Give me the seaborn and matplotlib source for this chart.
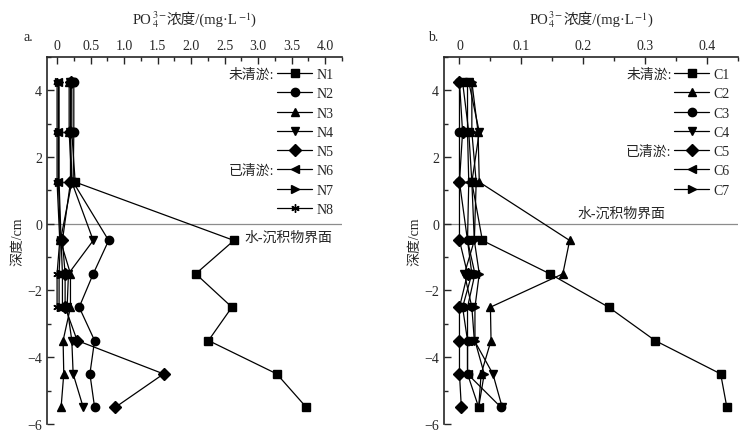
import numpy as np
import pandas as pd
import matplotlib
matplotlib.use("Agg")
import matplotlib.pyplot as plt
from matplotlib.ticker import MultipleLocator
from matplotlib.offsetbox import TextArea, HPacker, AnchoredOffsetbox
import seaborn as sns

# depth of each sampling layer (cm), water column above 0, sediment below
depth = [4.25, 2.75, 1.25, -0.5, -1.5, -2.5, -3.5, -4.5, -5.5]

# panel a: PO4 (mg/L)
N1 = [0.22, 0.22, 0.27, 2.64, 2.07, 2.61, 2.26, 3.28, 3.72]
N2 = [0.25, 0.25, 0.24, 0.77, 0.54, 0.33, 0.56, 0.49, 0.56]
N3 = [0.18, 0.18, 0.22, 0.05, 0.20, 0.20, 0.09, 0.10, 0.06]
N4 = [0.20, 0.20, 0.22, 0.54, 0.17, 0.15, 0.22, 0.24, 0.39]
N5 = [0.21, 0.20, 0.20, 0.08, 0.12, 0.12, 0.30, 1.59, 0.87]
N6 = [0.02, 0.02, 0.02, 0.05, 0.03, 0.03]
N7 = [0.03, 0.03, 0.03, 0.06, 0.08, 0.08]
N8 = [0.00, 0.00, 0.00, 0.04, 0.00, 0.00]

# panel b
C1 = [0.005, 0.015, 0.020, 0.037, 0.146, 0.241, 0.316, 0.422, 0.432]
C2 = [0.020, 0.030, 0.032, 0.178, 0.167, 0.050, 0.051, 0.035, 0.031]
C3 = [0.000, 0.000, 0.000, 0.013, 0.020, 0.005, 0.013, 0.013, 0.067]
C4 = [0.015, 0.032, 0.020, 0.024, 0.008, 0.020, 0.024, 0.054, 0.069]
C5 = [0.000, 0.005, 0.000, 0.000, 0.013, 0.000, 0.000, 0.000, 0.003]
C6 = [0.013, 0.013, 0.015, 0.013, 0.025, 0.013, 0.013, 0.013, 0.031]
C7 = [0.020, 0.020, 0.027, 0.024, 0.032, 0.025, 0.025, 0.040, 0.031]

sites_a = {"N1": N1, "N2": N2, "N3": N3, "N4": N4, "N5": N5, "N6": N6, "N7": N7, "N8": N8}
sites_b = {"C1": C1, "C2": C2, "C3": C3, "C4": C4, "C5": C5, "C6": C6, "C7": C7}
marks_a = ["s", "o", "^", "v", "D", "<", ">", (6, 2, 0)]
marks_b = ["s", "^", "o", "v", "D", "<", ">"]

sns.set_style("ticks")
plt.rcParams["font.family"] = ["Liberation Serif", "Noto Sans CJK SC"]
plt.rcParams["mathtext.fontset"] = "stix"
plt.rcParams["font.size"] = 10

# x label pieces: mathtext can't fall back to a CJK font, so pack them
xlabel_parts = ["PO", "$_4^{3-}$", "浓度/(mg·L", "$^{-1}$", ")"]


def top_xlabel(ax):
    boxes = [TextArea(p, textprops=dict(fontsize=10.5)) for p in xlabel_parts]
    pack = HPacker(children=boxes, align="baseline", pad=0, sep=0)
    anc = AnchoredOffsetbox(loc="lower center", child=pack, frameon=False,
                            bbox_to_anchor=(0.5, 1.075), bbox_transform=ax.transAxes,
                            borderpad=0, pad=0)
    ax.add_artist(anc)


def draw_panel(ax, sites, marks, xlim, xmaj, xmin, tag, tag_x, groups, iface_xy):
    for (name, vals), m in zip(sites.items(), marks):
        df = pd.DataFrame({"conc": vals, "depth": depth[:len(vals)]})
        sns.lineplot(data=df, x="conc", y="depth", orient="y", ax=ax,
                     color="black", marker=m, markersize=6, linewidth=0.9,
                     markeredgecolor="black", markeredgewidth=1.0,
                     estimator=None, legend=False)
    lines = ax.get_lines()[:len(sites)]
    ax.axhline(0, color="0.55", linewidth=0.9, zorder=0)

    ax.set_xlim(*xlim)
    ax.set_ylim(-6, 5)
    ax.xaxis.tick_top()
    ax.set_xlabel("")
    ax.set_ylabel("深度/cm", labelpad=2)
    ax.xaxis.set_major_locator(MultipleLocator(xmaj))
    ax.xaxis.set_minor_locator(MultipleLocator(xmin))
    ax.yaxis.set_major_locator(MultipleLocator(2))
    ax.yaxis.set_minor_locator(MultipleLocator(1))
    ax.xaxis.set_major_formatter(lambda v, p: "0" if abs(v) < 1e-9 else f"{v:.1f}")
    ax.yaxis.set_major_formatter(lambda v, p: f"{v:.0f}".replace("-", "\u2212"))
    ax.tick_params(which="both", direction="in", top=True, bottom=False, right=False)
    ax.tick_params(which="major", length=5, width=1)
    ax.tick_params(which="minor", length=3, width=1)
    for s in ["bottom", "right"]:
        ax.spines[s].set_visible(False)
    for s in ["top", "left"]:
        ax.spines[s].set_linewidth(1.2)
    top_xlabel(ax)

    leg = ax.legend(lines, list(sites.keys()), loc="upper right",
                    bbox_to_anchor=(0.99, 0.985), frameon=False,
                    handlelength=2.5, handletextpad=0.3, labelspacing=0.45,
                    borderaxespad=0, fontsize=10)
    texts = leg.get_texts()
    for row, lab in groups:
        ax.annotate(lab, xy=(0, 0.5), xycoords=texts[row], xytext=(-30, 0),
                    textcoords="offset points", ha="right", va="center",
                    fontsize=10, zorder=8)
    ax.text(iface_xy[0], iface_xy[1], "水-沉积物界面", ha="left", va="center",
            fontsize=10)
    ax.text(tag_x, 1.055, tag, transform=ax.transAxes, ha="left", va="center",
            fontsize=10)


fig = plt.figure(figsize=(7.5, 4.39), dpi=100)
ax1 = fig.add_axes([0.0627, 0.032, 0.393, 0.836])
ax2 = fig.add_axes([0.592, 0.032, 0.392, 0.836])

draw_panel(ax1, sites_a, marks_a, (-0.15, 4.25), 0.5, 0.25, "a.", -0.081,
           [(0, "未清淤:"), (5, "已清淤:")], (2.8, -0.39))
draw_panel(ax2, sites_b, marks_b, (-0.025, 0.45), 0.1, 0.05, "b.", -0.054,
           [(0, "未清淤:"), (4, "已清淤:")], (0.19, 0.32))

fig.canvas.draw()
fig.savefig("out.png", dpi=100)
